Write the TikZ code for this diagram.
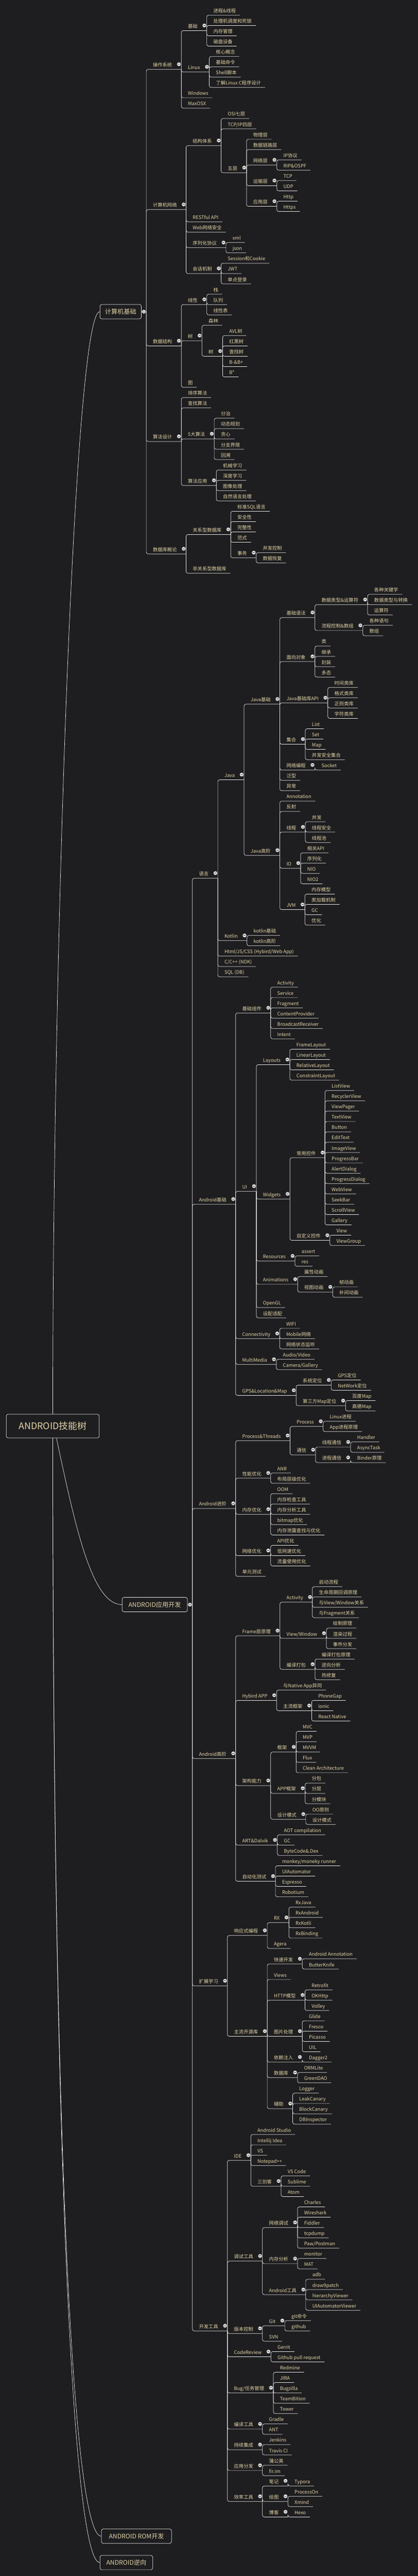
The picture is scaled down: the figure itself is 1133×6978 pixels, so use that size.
\documentclass[tikz,border=0pt]{standalone}
\usepackage{fontspec}
\newfontfamily\cjk{Noto Sans CJK SC}
\usetikzlibrary{calc}
\definecolor{bg}{RGB}{30,30,32}
\definecolor{tx}{RGB}{226,211,166}
\definecolor{lnc}{RGB}{236,236,236}
\tikzset{
  mm/.style={anchor=south west, inner xsep=0pt, inner ysep=0pt, outer sep=0pt,
    text height=12pt, text depth=7pt, text=tx, font=\cjk\fontsize{13}{15}\selectfont},
  lf/.style={mm, execute at begin node={\hspace*{18pt}}, execute at end node={\hspace*{11pt}}},
  pn/.style={mm, execute at begin node={\hspace*{18pt}}, execute at end node={\hspace*{25pt}}},
  edge/.style={draw=lnc, line width=1pt, rounded corners=5pt},
  curveln/.style={draw=lnc, line width=1pt},
  box/.style={draw=lnc, line width=1pt, rounded corners=5pt, fill=bg, text=tx,
    font=\cjk\fontsize{17}{20}\selectfont, minimum height=39pt, inner xsep=0pt},
  hub/.style={inner sep=0pt, outer sep=0pt, minimum size=0pt},
  tgfill/.style={fill=white!90!black, draw=gray!70!white, line width=0.6pt},
  tgbar/.style={draw=gray!40!black, line width=1.2pt},
}
\newcommand\TGAT[1]{\coordinate (tgc) at (#1);\path[tgfill] (tgc) circle[radius=5pt];\draw[tgbar] ([xshift=-2.6pt]tgc) -- ([xshift=2.6pt]tgc);}
\newcommand\LF[4]{\node[lf] (#1) at (#2.south east |- 0,#3) {#4};\draw[edge] (#2.south east) |- (#1.south east);}
\newcommand\ND[4]{\node[pn] (#1) at (#2.south east |- 0,#3) {#4};\draw[edge] (#2.south east) |- (#1.south east);\TGAT{[xshift=-6.5pt,yshift=14pt]#1.south east}}
\begin{document}
\begin{tikzpicture}[x=1pt,y=-1pt]
\useasboundingbox (0,0) rectangle (1133,6978);
\fill[bg] (0,0) rectangle (1133,6978);
% root and main boxes
\node[box, minimum width=252pt, minimum height=64pt, font=\cjk\fontsize{25}{28}\selectfont] (root) at (143,3863) {ANDROID技能树};
\node[box, minimum width=112pt] (b1) at (327,844.25) {计算机基础};
\node[box, minimum width=177pt] (b2) at (419.5,4346.6) {ANDROID应用开发};
\node[box, minimum width=190pt] (b3) at (370,6870) {ANDROID ROM开发};
\node[box, minimum width=143pt] (b4) at (342.5,6941.5) {ANDROID逆向};
\draw[curveln] (root.north) .. controls (143,2600) and (200,844.25) .. (b1.west);
\draw[curveln] ([xshift=10pt]root.south) .. controls (205,4140) and (250,4346.6) .. (b2.west);
\draw[curveln] (root.south) .. controls (143,5600) and (190,6870) .. (b3.west);
\draw[curveln] (root.south) .. controls (143,5600) and (190,6941.5) .. (b4.west);
\node[hub] (k1) at ([xshift=13pt]b1.east) {};
\node[hub] (k2) at ([xshift=13pt]b2.east) {};
\draw[edge] (b1.east) -- (k1);
\draw[edge] (b2.east) -- (k2);
\TGAT{[xshift=-6.5pt]k1}
\TGAT{[xshift=-6.5pt]k2}
% ===== 计算机基础 =====
\ND{a1}{k1}{188}{操作系统}
\ND{a11}{a1}{83}{基础}
\LF{a111}{a11}{41}{进程\&线程}
\LF{a112}{a11}{69}{处理机调度和死锁}
\LF{a113}{a11}{97}{内存管理}
\LF{a114}{a11}{125}{磁盘设备}
\ND{a12}{a1}{195}{Linux}
\LF{a121}{a12}{153}{核心概念}
\LF{a122}{a12}{181}{基础命令}
\LF{a123}{a12}{209}{Shell脚本}
\LF{a124}{a12}{237}{了解Linux C程序设计}
\LF{a13}{a1}{265}{Windows}
\LF{a14}{a1}{293}{MaxOSX}
\ND{a2}{k1}{567.75}{计算机网络}
\ND{a21}{a2}{394.5}{结构体系}
\LF{a211}{a21}{321}{OSI七层}
\LF{a212}{a21}{349}{TCP/IP四层}
\ND{a213}{a21}{468}{五层}
\LF{a2131}{a213}{377}{物理层}
\LF{a2132}{a213}{405}{数据链路层}
\ND{a2133}{a213}{447}{网络层}
\LF{a21331}{a2133}{433}{IP协议}
\LF{a21332}{a2133}{461}{RIP\&OSPF}
\ND{a2134}{a213}{503}{运输层}
\LF{a21341}{a2134}{489}{TCP}
\LF{a21342}{a2134}{517}{UDP}
\ND{a2135}{a213}{559}{应用层}
\LF{a21351}{a2135}{545}{Http}
\LF{a21352}{a2135}{573}{Https}
\LF{a22}{a2}{601}{RESTful API}
\LF{a23}{a2}{629}{Web网络安全}
\ND{a24}{a2}{671}{序列化协议}
\LF{a241}{a24}{657}{xml}
\LF{a242}{a24}{685}{json}
\ND{a25}{a2}{741}{会话机制}
\LF{a251}{a25}{713}{Session和Cookie}
\LF{a252}{a25}{741}{JWT}
\LF{a253}{a25}{769}{单点登录}
\ND{a3}{k1}{937}{数据结构}
\ND{a31}{a3}{825}{线性}
\LF{a311}{a31}{797}{栈}
\LF{a312}{a31}{825}{队列}
\LF{a313}{a31}{853}{线性表}
\ND{a32}{a3}{923}{树}
\LF{a321}{a32}{881}{森林}
\ND{a322}{a32}{965}{树}
\LF{a3221}{a322}{909}{AVL树}
\LF{a3222}{a322}{937}{红黑树}
\LF{a3223}{a322}{965}{查找树}
\LF{a3224}{a322}{993}{B-\&B+}
\LF{a3225}{a322}{1021}{B*}
\LF{a33}{a3}{1049}{图}
\ND{a4}{k1}{1196}{算法设计}
\LF{a41}{a4}{1077}{排序算法}
\LF{a42}{a4}{1105}{查找算法}
\ND{a43}{a4}{1189}{5大算法}
\LF{a431}{a43}{1133}{分治}
\LF{a432}{a43}{1161}{动态规划}
\LF{a433}{a43}{1189}{贪心}
\LF{a434}{a43}{1217}{分支界限}
\LF{a435}{a43}{1245}{回溯}
\ND{a44}{a4}{1315}{算法应用}
\LF{a441}{a44}{1273}{机械学习}
\LF{a442}{a44}{1301}{深度学习}
\LF{a443}{a44}{1329}{图像处理}
\LF{a444}{a44}{1357}{自然语言处理}
\ND{a5}{k1}{1500.5}{数据库概论}
\ND{a51}{a5}{1448}{关系型数据库}
\LF{a511}{a51}{1385}{标准SQL语言}
\LF{a512}{a51}{1413}{安全性}
\LF{a513}{a51}{1441}{完整性}
\LF{a514}{a51}{1469}{范式}
\ND{a515}{a51}{1511}{事务}
\LF{a5151}{a515}{1497}{并发控制}
\LF{a5152}{a515}{1525}{数据恢复}
\LF{a52}{a5}{1553}{非关系型数据库}
% ===== 语言 =====
\ND{c1}{k2}{2379.1}{语言}
\ND{c11}{c1}{2112.25}{Java}
\ND{c111}{c11}{1907.5}{Java基础}
\ND{c1111}{c111}{1673}{基础语法}
\ND{c11111}{c1111}{1638}{数据类型\&运算符}
\LF{d1}{c11111}{1610}{各种关键字}
\LF{d2}{c11111}{1638}{数据类型与转换}
\LF{d3}{c11111}{1666}{运算符}
\ND{c11112}{c1111}{1708}{流程控制\&数组}
\LF{d4}{c11112}{1694}{各种语句}
\LF{d5}{c11112}{1722}{数组}
\ND{c1112}{c111}{1792}{面向对象}
\LF{d6}{c1112}{1750}{类}
\LF{d7}{c1112}{1778}{继承}
\LF{d8}{c1112}{1806}{封装}
\LF{d9}{c1112}{1834}{多态}
\ND{c1113}{c111}{1904}{Java基础库API}
\LF{d10}{c1113}{1862}{时间类库}
\LF{d11}{c1113}{1890}{格式类库}
\LF{d12}{c1113}{1918}{正则类库}
\LF{d13}{c1113}{1946}{字符类库}
\ND{c1114}{c111}{2016}{集合}
\LF{d14}{c1114}{1974}{List}
\LF{d15}{c1114}{2002}{Set}
\LF{d16}{c1114}{2030}{Map}
\LF{d17}{c1114}{2058}{并发安全集合}
\ND{c1115}{c111}{2086}{网络编程}
\LF{d18}{c1115}{2086}{Socket}
\LF{c1116}{c111}{2114}{泛型}
\LF{c1117}{c111}{2142}{异常}
\ND{c112}{c11}{2317}{Java高阶}
\LF{d19}{c112}{2170}{Annotation}
\LF{d20}{c112}{2198}{反射}
\ND{c1121}{c112}{2254}{线程}
\LF{d21}{c1121}{2226}{并发}
\LF{d22}{c1121}{2254}{线程安全}
\LF{d23}{c1121}{2282}{线程池}
\ND{c1122}{c112}{2352}{IO}
\LF{d24}{c1122}{2310}{相关API}
\LF{d25}{c1122}{2338}{序列化}
\LF{d26}{c1122}{2366}{NIO}
\LF{d27}{c1122}{2394}{NIO2}
\ND{c1123}{c112}{2464}{JVM}
\LF{d28}{c1123}{2422}{内存模型}
\LF{d29}{c1123}{2450}{类加载机制}
\LF{d30}{c1123}{2478}{GC}
\LF{d31}{c1123}{2506}{优化}
\ND{c12}{c1}{2548}{Kotlin}
\LF{d32}{c12}{2534}{kotlin基础}
\LF{d33}{c12}{2562}{kotlin高阶}
\LF{c13}{c1}{2590}{Html/JS/CSS (Hybird/Web App)}
\LF{c14}{c1}{2618}{C/C++ (NDK)}
\LF{c15}{c1}{2646}{SQL (DB)}
% ===== Android基础 =====
\ND{e1}{k2}{3262}{Android基础}
\ND{e11}{e1}{2744}{基础组件}
\LF{f1}{e11}{2674}{Activity}
\LF{f2}{e11}{2702}{Service}
\LF{f3}{e11}{2730}{Fragment}
\LF{f4}{e11}{2758}{ContentProvider}
\LF{f5}{e11}{2786}{BroadcastReceiver}
\LF{f6}{e11}{2814}{Intent}
\ND{e12}{e1}{3227}{UI}
\ND{e121}{e12}{2884}{Layouts}
\LF{f7}{e121}{2842}{FrameLayout}
\LF{f8}{e121}{2870}{LinearLayout}
\LF{f9}{e121}{2898}{RelativeLayout}
\LF{f10}{e121}{2926}{ConstraintLayout}
\ND{e122}{e12}{3248}{Widgets}
\ND{e1221}{e122}{3136}{常用控件}
\LF{f11}{e1221}{2954}{ListView}
\LF{f12}{e1221}{2982}{RecyclerView}
\LF{f13}{e1221}{3010}{ViewPager}
\LF{f14}{e1221}{3038}{TextView}
\LF{f15}{e1221}{3066}{Button}
\LF{f16}{e1221}{3094}{EditText}
\LF{f17}{e1221}{3122}{ImageView}
\LF{f18}{e1221}{3150}{ProgressBar}
\LF{f19}{e1221}{3178}{AlertDialog}
\LF{f20}{e1221}{3206}{ProgressDialog}
\LF{f21}{e1221}{3234}{WebView}
\LF{f22}{e1221}{3262}{SeekBar}
\LF{f23}{e1221}{3290}{ScrollView}
\LF{f24}{e1221}{3318}{Gallery}
\ND{e1222}{e122}{3360}{自定义控件}
\LF{f25}{e1222}{3346}{View}
\LF{f26}{e1222}{3374}{ViewGroup}
\ND{e123}{e12}{3416}{Resources}
\LF{f27}{e123}{3402}{assert}
\LF{f28}{e123}{3430}{res}
\ND{e124}{e12}{3479}{Animations}
\LF{f29}{e124}{3458}{属性动画}
\ND{e1241}{e124}{3500}{视图动画}
\LF{f30}{e1241}{3486}{帧动画}
\LF{f31}{e1241}{3514}{补间动画}
\LF{e125}{e12}{3542}{OpenGL}
\LF{e126}{e12}{3570}{设配适配}
\ND{e13}{e1}{3626}{Connectivity}
\LF{f32}{e13}{3598}{WIFI}
\LF{f33}{e13}{3626}{Mobile网络}
\LF{f34}{e13}{3654}{网络状态监听}
\ND{e14}{e1}{3696}{MultiMedia}
\LF{f35}{e14}{3682}{Audio/Video}
\LF{f36}{e14}{3710}{Camera/Gallery}
\ND{e15}{e1}{3780}{GPS\&Location\&Map}
\ND{e151}{e15}{3752}{系统定位}
\LF{f37}{e151}{3738}{GPS定位}
\LF{f38}{e151}{3766}{NetWork定位}
\ND{e152}{e15}{3808}{第三方Map定位}
\LF{f39}{e152}{3794}{百度Map}
\LF{f40}{e152}{3822}{高德Map}
% ===== Android进阶 =====
\ND{g1}{k2}{4086.25}{Android进阶}
\ND{g11}{g1}{3902.5}{Process\&Threads}
\ND{g111}{g11}{3864}{Process}
\LF{h1}{g111}{3850}{Linux进程}
\LF{h2}{g111}{3878}{App进程原理}
\ND{g112}{g11}{3941}{通信}
\ND{g1121}{g112}{3920}{线程通信}
\LF{h3}{g1121}{3906}{Handler}
\LF{h4}{g1121}{3934}{AsyncTask}
\ND{g1122}{g112}{3962}{进程通信}
\LF{h5}{g1122}{3962}{Binder原理}
\ND{g12}{g1}{4004}{性能优化}
\LF{h6}{g12}{3990}{ANR}
\LF{h7}{g12}{4018}{布局层级优化}
\ND{g13}{g1}{4102}{内存优化}
\LF{h8}{g13}{4046}{OOM}
\LF{h9}{g13}{4074}{内存检查工具}
\LF{h10}{g13}{4102}{内存分析工具}
\LF{h11}{g13}{4130}{bitmap优化}
\LF{h12}{g13}{4158}{内存泄露查找与优化}
\ND{g14}{g1}{4214}{网络优化}
\LF{h13}{g14}{4186}{API优化}
\LF{h14}{g14}{4214}{低网速优化}
\LF{h15}{g14}{4242}{流量使用优化}
\LF{g15}{g1}{4270}{单元测试}
% ===== Android高阶 =====
\ND{i1}{k2}{4763.5}{Android高阶}
\ND{i11}{i1}{4431}{Frame层原理}
\ND{i111}{i11}{4340}{Activity}
\LF{q1}{i111}{4298}{启动流程}
\LF{q2}{i111}{4326}{生命周期回调原理}
\LF{q3}{i111}{4354}{与View/Window关系}
\LF{q4}{i111}{4382}{与Fragment关系}
\ND{i112}{i11}{4438}{View/Window}
\LF{q5}{i112}{4410}{绘制原理}
\LF{q6}{i112}{4438}{渲染过程}
\LF{q7}{i112}{4466}{事件分发}
\ND{i113}{i11}{4522}{编译打包}
\LF{q8}{i113}{4494}{编译打包原理}
\LF{q9}{i113}{4522}{逆向分析}
\LF{q10}{i113}{4550}{热修复}
\ND{i12}{i1}{4606}{Hybird APP}
\LF{q11}{i12}{4578}{与Native App异同}
\ND{i121}{i12}{4634}{主流框架}
\LF{q12}{i121}{4606}{PhoneGap}
\LF{q13}{i121}{4634}{ionic}
\LF{q14}{i121}{4662}{React Native}
\ND{i13}{i1}{4837}{架构能力}
\ND{i131}{i13}{4746}{框架}
\LF{q15}{i131}{4690}{MVC}
\LF{q16}{i131}{4718}{MVP}
\LF{q17}{i131}{4746}{MVVM}
\LF{q18}{i131}{4774}{Flux}
\LF{q19}{i131}{4802}{Clean Architecture}
\ND{i132}{i13}{4858}{APP框架}
\LF{q20}{i132}{4830}{分包}
\LF{q21}{i132}{4858}{分层}
\LF{q22}{i132}{4886}{分模块}
\ND{i133}{i13}{4928}{设计模式}
\LF{q23}{i133}{4914}{OO原则}
\LF{q24}{i133}{4942}{设计模式}
\ND{i14}{i1}{4998}{ART\&Dalvik}
\LF{q25}{i14}{4970}{AOT compilation}
\LF{q26}{i14}{4998}{GC}
\LF{q27}{i14}{5026}{ByteCode\&.Dex}
\ND{i15}{i1}{5096}{自动化测试}
\LF{q28}{i15}{5054}{monkey/moneky runner}
\LF{q29}{i15}{5082}{UIAutomator}
\LF{q30}{i15}{5110}{Espresso}
\LF{q31}{i15}{5138}{Robotium}
% ===== 扩展学习 =====
\ND{m1}{k2}{5379.5}{扩展学习}
\ND{m11}{m1}{5243}{响应式编程}
\ND{m111}{m11}{5208}{RX}
\LF{r1}{m111}{5166}{RxJava}
\LF{r2}{m111}{5194}{RxAndroid}
\LF{r3}{m111}{5222}{RxKotli}
\LF{r4}{m111}{5250}{RxBinding}
\LF{m112}{m11}{5278}{Agera}
\ND{m12}{m1}{5516}{主流开源库}
\ND{m121}{m12}{5320}{快速开发}
\LF{r5}{m121}{5306}{Android Annotation}
\LF{r6}{m121}{5334}{ButterKnife}
\LF{m122}{m12}{5362}{Views}
\ND{m123}{m12}{5418}{HTTP模型}
\LF{r7}{m123}{5390}{Retrofit}
\LF{r8}{m123}{5418}{OKHttp}
\LF{r9}{m123}{5446}{Volley}
\ND{m124}{m12}{5516}{图片处理}
\LF{r10}{m124}{5474}{Glide}
\LF{r11}{m124}{5502}{Fresco}
\LF{r12}{m124}{5530}{Picasso}
\LF{r13}{m124}{5558}{UIL}
\ND{m125}{m12}{5586}{依赖注入}
\LF{r14}{m125}{5586}{Dagger2}
\ND{m126}{m12}{5628}{数据库}
\LF{r15}{m126}{5614}{ORMLite}
\LF{r16}{m126}{5642}{GreenDAO}
\ND{m127}{m12}{5712}{辅助}
\LF{r17}{m127}{5670}{Logger}
\LF{r18}{m127}{5698}{LeakCanary}
\LF{r19}{m127}{5726}{BlockCanary}
\LF{r20}{m127}{5754}{DBInspector}
% ===== 开发工具 =====
\ND{p1}{k2}{6314}{开发工具}
\ND{p11}{p1}{5852}{IDE}
\LF{s1}{p11}{5782}{Android Studio}
\LF{s2}{p11}{5810}{Intellij Idea}
\LF{s3}{p11}{5838}{VS}
\LF{s4}{p11}{5866}{Notepad++}
\ND{p111}{p11}{5922}{三剑客}
\LF{s5}{p111}{5894}{VS Code}
\LF{s6}{p111}{5922}{Sublime}
\LF{s7}{p111}{5950}{Atom}
\ND{p12}{p1}{6125}{调试工具}
\ND{p121}{p12}{6034}{网络调试}
\LF{s8}{p121}{5978}{Charles}
\LF{s9}{p121}{6006}{Wireshark}
\LF{s10}{p121}{6034}{Fiddler}
\LF{s11}{p121}{6062}{tcpdump}
\LF{s12}{p121}{6090}{Paw/Postman}
\ND{p122}{p12}{6132}{内存分析}
\LF{s13}{p122}{6118}{monitor}
\LF{s14}{p122}{6146}{MAT}
\ND{p123}{p12}{6216}{Android工具}
\LF{s15}{p123}{6174}{adb}
\LF{s16}{p123}{6202}{draw9patch}
\LF{s17}{p123}{6230}{hierarchyViewer}
\LF{s18}{p123}{6258}{UIAutomatorViewer}
\ND{p13}{p1}{6321}{版本控制}
\ND{p131}{p13}{6300}{Git}
\LF{s19}{p131}{6286}{git命令}
\LF{s20}{p131}{6314}{github}
\LF{s21}{p13}{6342}{SVN}
\ND{p14}{p1}{6384}{CodeReview}
\LF{s22}{p14}{6370}{Gerrit}
\LF{s23}{p14}{6398}{Github pull request}
\ND{p15}{p1}{6482}{Bug/任务管理}
\LF{s24}{p15}{6426}{Redmine}
\LF{s25}{p15}{6454}{JIRA}
\LF{s26}{p15}{6482}{Bugzilla}
\LF{s27}{p15}{6510}{TeamBition}
\LF{s28}{p15}{6538}{Tower}
\ND{p16}{p1}{6580}{编译工具}
\LF{s29}{p16}{6566}{Gradle}
\LF{s30}{p16}{6594}{ANT}
\ND{p17}{p1}{6636}{持续集成}
\LF{s31}{p17}{6622}{Jenkins}
\LF{s32}{p17}{6650}{Travis CI}
\ND{p18}{p1}{6692}{应用分发}
\LF{s33}{p18}{6678}{蒲公英}
\LF{s34}{p18}{6706}{fir.im}
\ND{p19}{p1}{6776}{效率工具}
\ND{p191}{p19}{6734}{笔记}
\LF{s35}{p191}{6734}{Typora}
\ND{p192}{p19}{6776}{绘图}
\LF{s36}{p192}{6762}{ProcessOn}
\LF{s37}{p192}{6790}{Xmind}
\ND{p193}{p19}{6818}{博客}
\LF{s38}{p193}{6818}{Hexo}
\end{tikzpicture}
\end{document}
